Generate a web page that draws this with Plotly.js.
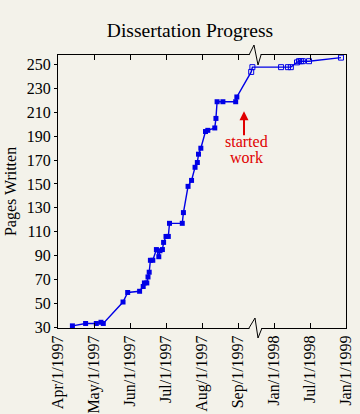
<!DOCTYPE html>
<html><head><meta charset="utf-8">
<script src="https://cdn.plot.ly/plotly-3.0.1.min.js"></script>
<style>html,body{margin:0;padding:0;background:#f3f2ea}</style>
</head><body>
<div id="chart" style="width:360px;height:414px"></div>
<script>
// Drafting phase (filled squares)
const draftDates = ['1997-04-13','1997-04-24','1997-05-03','1997-05-07','1997-05-09','1997-05-26','1997-05-30',
  '1997-06-09','1997-06-12','1997-06-13','1997-06-15','1997-06-16','1997-06-17','1997-06-18','1997-06-20',
  '1997-06-23','1997-06-25','1997-06-26','1997-06-28','1997-06-29','1997-07-01','1997-07-03','1997-07-04',
  '1997-07-15','1997-07-16','1997-07-20','1997-07-23','1997-07-26','1997-07-28','1997-07-29','1997-07-31',
  '1997-08-04','1997-08-06','1997-08-12','1997-08-13','1997-08-14','1997-08-19','1997-08-30','1997-08-31'];
const draftPages = [31,33,33,34,33,51,59,
  60,64,67,67,72,76,86,86,
  95,89,94,95,101,106,106,117,
  117,126,148,153,164,168,175,180,
  194,195,197,205,219,219,219,223];
// After starting work (open squares)
const workDates = ['1997-09-12','1997-09-13','1998-02-06','1998-03-11','1998-03-26','1998-04-26',
  '1998-05-06','1998-05-16','1998-05-26','1998-06-26','1998-12-06'];
const workPages = [244,248,248,248,248,252,253,253,253,253,256];
const tickDates = ['1997-04-01','1997-05-01','1997-06-01','1997-07-01','1997-08-01','1997-09-01',
  '1998-01-01','1998-07-01','1999-01-01'];
const tickLabels = ['Apr/1/1997','May/1/1997','Jun/1/1997','Jul/1/1997','Aug/1/1997','Sep/1/1997',
  'Jan/1/1998','Jul/1/1998','Jan/1/1999'];
const yTicks = [30,50,70,90,110,130,150,170,190,210,230,250];

// broken time axis: monthly scale until mid-Sep 1997, half-year scale from Jan 1998
function monthsSince(s){
  const [Y,M,D] = s.split('-').map(Number);
  const dim = new Date(Y, M, 0).getDate();
  return (Y-1997)*12 + (M-4) + (D-1)/dim;
}
function pos(s){
  const m = monthsSince(s);
  if (m <= 5.5) return m;
  if (m >= 9) return 6 + (m-9)/6;
  return 5.5 + (m-5.5)/3.5*0.5;
}

const BG = '#f3f2ea', BLUE = '#0000e6', RED = '#e00000';
const FONT = 'Liberation Serif, Times New Roman, serif';
const allX = draftDates.concat(workDates).map(pos);
const allY = draftPages.concat(workPages);

const traces = [
  {x: allX, y: allY, mode:'lines', line:{color:BLUE, width:1.4}, hoverinfo:'skip', showlegend:false},
  {x: draftDates.map(pos), y: draftPages, mode:'markers', marker:{symbol:'square', size:5, color:BLUE}, showlegend:false},
  {x: workDates.map(pos), y: workPages, mode:'markers', marker:{symbol:'square-open', size:5, color:BLUE, line:{width:1, color:BLUE}}, showlegend:false}
];

// pixel helpers for decorations (paper coordinates)
const L=58, R=346, T=55, B=328;
const px = v => (v-L)/(R-L);
const py = v => (B-v)/(B-T);

const shapes = [
  {type:'rect', xref:'paper', yref:'paper', x0:px(249.5), x1:px(261.5), y0:py(330.5), y1:py(325.5), fillcolor:BG, line:{width:0}, layer:'above'},
  {type:'rect', xref:'paper', yref:'paper', x0:px(249.5), x1:px(260.5), y0:py(57.5), y1:py(52.5), fillcolor:BG, line:{width:0}, layer:'above'},
  {type:'path', xref:'paper', yref:'paper', layer:'above', line:{color:'black', width:1},
   path:`M ${px(249)},${py(328)} L ${px(255)},${py(318)} L ${px(258)},${py(338)} L ${px(262)},${py(328)}`},
  {type:'path', xref:'paper', yref:'paper', layer:'above', line:{color:'black', width:1},
   path:`M ${px(249)},${py(55)} L ${px(254)},${py(45)} L ${px(258)},${py(65)} L ${px(261)},${py(55)}`}
];

const noteX = pos('1997-09-06');
const layout = {
  width:360, height:414,
  paper_bgcolor:BG, plot_bgcolor:BG,
  margin:{l:L, r:360-R, t:T, b:414-B},
  font:{family:FONT, size:16, color:'black'},
  title:{text:'Dissertation Progress', font:{family:FONT, size:19.5, color:'black'},
    xref:'container', x:190/360, xanchor:'center', yref:'container', y:1-30/414, yanchor:'middle'},
  xaxis:{range:[0,8], tickmode:'array', tickvals:tickDates.map(pos), ticktext:tickLabels, tickangle:-90,
    ticks:'inside', ticklen:5, tickcolor:'black', showline:true, linecolor:'black', linewidth:1, mirror:'ticks',
    showgrid:false, zeroline:false, tickfont:{family:FONT, size:16, color:'black'}, fixedrange:true},
  yaxis:{range:[29.2,258.2], tickmode:'array', tickvals:yTicks, ticks:'outside', ticklen:3, tickcolor:'black',
    showline:true, linecolor:'black', linewidth:1, mirror:true, showgrid:false, zeroline:false,
    tickfont:{family:FONT, size:16, color:'black'},
    title:{text:'Pages Written', font:{family:FONT, size:16, color:'black'}, standoff:6}},
  shapes:shapes,
  annotations:[
    {x:noteX, y:211, xref:'x', yref:'y', text:' ', showarrow:true,
     arrowhead:2, arrowsize:0.9, arrowwidth:2, arrowcolor:RED, ax:0, ay:26, font:{size:1, color:RED}},
    {x:noteX, y:211, xref:'x', yref:'y', text:'started', showarrow:false, xshift:2, yshift:-30,
     font:{family:FONT, size:16, color:RED}},
    {x:noteX, y:211, xref:'x', yref:'y', text:'work', showarrow:false, xshift:2, yshift:-46,
     font:{family:FONT, size:16, color:RED}}
  ],
  showlegend:false
};

Plotly.newPlot('chart', traces, layout, {staticPlot:true, displayModeBar:false});
</script>
</body></html>
